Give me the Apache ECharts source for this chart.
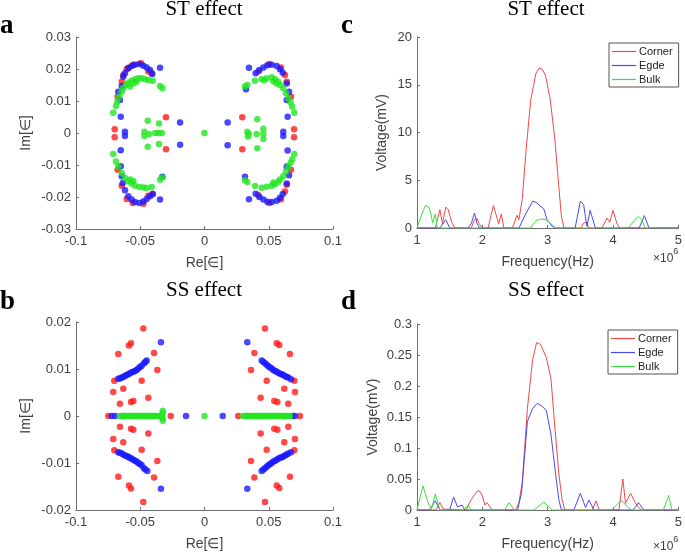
<!DOCTYPE html>
<html><head><meta charset="utf-8">
<script src="https://cdn.jsdelivr.net/npm/echarts@6/dist/echarts.min.js"></script>
<style>html,body{margin:0;padding:0;background:#fff}#c{width:685px;height:552px}</style>
</head><body><div id="c"></div>
<script>
// ---------- Panel a (ST effect) eigenvalues ----------
const aRed = [[-0.0676,0.0113],[-0.0644,0.016],[-0.0632,0.0181],[-0.0606,0.0199],[-0.0593,0.0204],[-0.0554,0.0213],[-0.0494,0.0218],[-0.0437,0.0192],[-0.0411,0.0187],
[-0.0699,0.0012],[-0.0699,-0.0013],[-0.03,0.0049],[-0.03,-0.0051],
[-0.0676,-0.0115],[-0.0644,-0.0165],[-0.0606,-0.0206],[-0.0559,-0.0219],[-0.0476,-0.0221],[-0.0437,-0.0196],[-0.0403,-0.0191],
[0.0419,0.0192],[0.0504,0.0216],[0.0595,0.0205],[0.0626,0.0181],[0.064,0.016],[0.0673,0.0113],[0.0697,0.0012],[0.0697,-0.0013],[0.0294,0.0049],[0.0294,-0.0051],
[0.0419,-0.0194],[0.0504,-0.0219],[0.0595,-0.0207],[0.0626,-0.0183],[0.064,-0.0162],[0.0673,-0.0115]];
const aBlue = [[-0.0671,0.0129],[-0.0658,0.0103],[-0.0644,0.0147],[-0.0632,0.0176],[-0.0619,0.0187],[-0.0593,0.0202],[-0.0567,0.0209],[-0.0541,0.0213],[-0.0507,0.0216],[-0.0476,0.021],[-0.045,0.0205],[-0.0424,0.0197],[-0.0406,0.0184],[-0.0346,0.0204],
[-0.0652,0.0051],[-0.0619,0.0004],[-0.0619,-0.0009],[-0.019,0.0033],[-0.019,-0.0037],[-0.0652,-0.0054],
[-0.0652,-0.0104],[-0.0644,-0.0135],[-0.0636,-0.0156],[-0.0619,-0.0179],[-0.0593,-0.0198],[-0.0567,-0.0208],[-0.0541,-0.0216],[-0.0507,-0.0219],[-0.0476,-0.0214],[-0.045,-0.0206],[-0.0424,-0.0198],[-0.0403,-0.0191],[-0.0346,-0.0208],[-0.0328,-0.0137],
[0.0346,0.0204],[0.0398,0.0187],[0.0427,0.0197],[0.0458,0.0205],[0.0489,0.0212],[0.0523,0.0213],[0.0562,0.0209],[0.0588,0.0199],[0.0609,0.0188],[0.064,0.0155],[0.0658,0.0129],[0.064,0.0103],[0.0323,0.0137],
[0.0647,0.0051],[0.0613,0.0004],[0.0613,-0.0009],[0.018,0.0033],[0.018,-0.0038],[0.0647,-0.0055],
[0.0346,-0.0207],[0.0398,-0.019],[0.0427,-0.02],[0.0458,-0.0208],[0.0489,-0.0215],[0.0523,-0.0216],[0.0562,-0.0212],[0.0588,-0.0202],[0.0609,-0.0191],[0.064,-0.0158],[0.0658,-0.0132],[0.064,-0.0105],[0.0315,-0.0137]];
const aGreen = [[-0.071,0.0063],[-0.0689,0.0084],[-0.0679,0.0098],[-0.0663,0.0113],[-0.0644,0.0129],[-0.0632,0.014],[-0.0611,0.015],[-0.0593,0.0157],[-0.058,0.0145],[-0.0567,0.0163],[-0.0554,0.0155],[-0.0541,0.0168],[-0.0528,0.016],[-0.0515,0.0171],[-0.0489,0.0171],[-0.0463,0.0168],[-0.0437,0.0166],[-0.0403,0.0163],[-0.0346,0.0147],[-0.0328,0.014],
[-0.0442,0.0038],[-0.0354,0.003],[-0.0468,0.0004],[-0.0468,-0.0009],[-0.043,-0.0003],[-0.0384,0],[-0.0358,0],[-0.0332,0],[-0.0354,-0.0034],[-0.0442,-0.0043],[-0.071,-0.0066],[0,0],
[-0.0689,-0.0089],[-0.0671,-0.0104],[-0.0644,-0.0125],[-0.0619,-0.0141],[-0.0593,-0.0151],[-0.058,-0.0145],[-0.0567,-0.0158],[-0.0554,-0.015],[-0.0541,-0.0165],[-0.0507,-0.0169],[-0.0476,-0.017],[-0.045,-0.0172],[-0.0411,-0.0169],[-0.0346,-0.0146],[-0.0328,-0.0139],
[0.0315,0.0145],[0.0333,0.015],[0.0393,0.0163],[0.0445,0.0168],[0.0465,0.0165],[0.0484,0.0171],[0.0523,0.0174],[0.0536,0.0162],[0.0549,0.0168],[0.056,0.0155],[0.0574,0.016],[0.0588,0.015],[0.0613,0.014],[0.0634,0.0124],[0.0652,0.0108],[0.0671,0.0095],[0.0683,0.0082],[0.0699,0.0063],
[0.0411,0.0043],[0.0458,0.0013],[0.0458,-0.0003],[0.0458,-0.0019],[0.0411,-0.0048],[0.0333,0.0004],[0.0345,-0.0003],[0.0338,-0.0011],[0.0406,-0.0003],[0.0699,-0.0066],
[0.0315,-0.0148],[0.0333,-0.0153],[0.0393,-0.0166],[0.0445,-0.0171],[0.0484,-0.0168],[0.0523,-0.0165],[0.0536,-0.0155],[0.0549,-0.016],[0.0574,-0.0152],[0.0588,-0.0145],[0.0613,-0.0135],[0.0634,-0.012],[0.0652,-0.0105],[0.0671,-0.0092],[0.0683,-0.0082]];

// ---------- Panel b (SS effect) eigenvalues ----------
const bRed = [[-0.0476,0.0186],[-0.0572,0.0155],[-0.0588,0.015],[-0.0671,0.0132],[-0.0393,0.0134],[-0.0367,0.0098],[-0.0489,0.0075],[-0.0702,0.0075],[-0.071,0.0051],[-0.0632,0.0058],[-0.0437,0.0039],[-0.0554,0.0032],[-0.0572,0.003],[-0.0658,0.0026],[-0.0749,0],[-0.0263,0],
[-0.0658,-0.0023],[-0.0572,-0.0027],[-0.0554,-0.0029],[-0.071,-0.0049],[-0.0632,-0.0056],[-0.0437,-0.0037],[-0.0702,-0.0073],[-0.0489,-0.0072],[-0.0367,-0.0096],[-0.0671,-0.0129],[-0.0393,-0.0131],[-0.0588,-0.0148],[-0.0572,-0.0154],[-0.0476,-0.0183],
[0.0471,0.0186],[0.0562,0.0155],[0.0582,0.0151],[0.0388,0.0134],[0.0665,0.0132],[0.0362,0.0098],[0.0484,0.0075],[0.0699,0.0075],[0.0621,0.0058],[0.0704,0.0051],[0.0437,0.0039],[0.0543,0.0032],[0.0567,0.003],[0.0652,0.0026],[0.0263,0],[0.0743,0],
[0.0652,-0.0023],[0.0543,-0.0027],[0.0567,-0.0029],[0.0704,-0.0049],[0.0621,-0.0056],[0.0437,-0.0037],[0.0699,-0.0073],[0.0484,-0.0072],[0.0362,-0.0096],[0.0665,-0.0129],[0.0388,-0.0131],[0.0562,-0.0148],[0.0582,-0.0153],[0.0471,-0.0183]];
const bBlue = [[-0.0671,0.0079],[-0.0658,0.008],[-0.0644,0.0082],[-0.0632,0.0083],[-0.0619,0.0085],[-0.0606,0.0087],[-0.0593,0.0089],[-0.058,0.0091],[-0.0567,0.0093],[-0.0554,0.0094],[-0.0541,0.0096],[-0.0528,0.0098],[-0.0515,0.0101],[-0.0502,0.0104],[-0.0489,0.0107],[-0.0471,0.0112],[-0.046,0.0115],[-0.045,0.0118],
[-0.0671,-0.0077],[-0.0658,-0.0078],[-0.0644,-0.008],[-0.0632,-0.0082],[-0.0619,-0.0084],[-0.0606,-0.0085],[-0.0593,-0.0087],[-0.058,-0.0089],[-0.0567,-0.0091],[-0.0554,-0.0093],[-0.0541,-0.0095],[-0.0528,-0.0097],[-0.0515,-0.01],[-0.0502,-0.0102],[-0.0489,-0.0105],[-0.0471,-0.0111],[-0.046,-0.0114],[-0.0445,-0.0117],
[0.0445,0.0118],[0.0458,0.0115],[0.0471,0.0112],[0.0484,0.0109],[0.0497,0.0106],[0.051,0.0103],[0.0523,0.0101],[0.0536,0.0098],[0.0549,0.0096],[0.0562,0.0094],[0.0574,0.0092],[0.0588,0.009],[0.0601,0.0089],[0.0613,0.0087],[0.0626,0.0085],[0.0639,0.0083],[0.0652,0.0082],[0.0673,0.0078],
[0.0445,-0.0117],[0.0458,-0.0114],[0.0471,-0.0111],[0.0484,-0.0108],[0.0497,-0.0105],[0.051,-0.0102],[0.0523,-0.01],[0.0536,-0.0097],[0.0549,-0.0095],[0.0562,-0.0093],[0.0574,-0.0091],[0.0588,-0.0089],[0.0601,-0.0088],[0.0613,-0.0086],[0.0626,-0.0084],[0.0639,-0.0082],[0.0652,-0.008],[0.0673,-0.0077],
[-0.0339,0.0157],[-0.0339,-0.0155],[0.0333,0.0157],[0.0333,-0.0155],
[-0.0722,0],[-0.0696,0],[-0.0626,0],[-0.0144,0],[0.0142,0],[0.0683,0],[0.0704,0]];
const bGreen = [[-0.0657,0],[-0.0645,0],[-0.0633,0],[-0.0621,0],[-0.0609,0],[-0.0597,0],[-0.0585,0],[-0.0573,0],[-0.0561,0],[-0.0549,0],[-0.0537,0],[-0.0525,0],[-0.0513,0],[-0.0501,0],[-0.0489,0],[-0.0477,0],[-0.0465,0],[-0.0453,0],[-0.0441,0],[-0.0429,0],[-0.0417,0],[-0.0405,0],[-0.0393,0],[-0.0381,0],[-0.0369,0],[-0.0357,0],[-0.0345,0],[-0.0333,0],[-0.0325,0.0011],[-0.0325,0.0006],[-0.0325,-0.0005],[-0.0325,-0.001],
[0,0],
[0.0302,0],[0.0314,0],[0.0326,0],[0.0338,0],[0.035,0],[0.0362,0],[0.0374,0],[0.0386,0],[0.0398,0],[0.041,0],[0.0422,0],[0.0434,0],[0.0446,0],[0.0458,0],[0.047,0],[0.0482,0],[0.0494,0],[0.0506,0],[0.0518,0],[0.053,0],[0.0542,0],[0.0554,0],[0.0566,0],[0.0578,0],[0.059,0],[0.0602,0],[0.0614,0],[0.0626,0],[0.0638,0],[0.065,0],[0.0665,0]];

// ---------- Panel c (ST effect) voltage spectra, frequency in 1e6 Hz ----------
const cCorner = [[1,0],[1.28,0],[1.35,1.92],[1.39,0.45],[1.44,2.2],[1.48,1.9],[1.53,0.6],[1.58,0],[1.83,0],[1.88,0.87],[1.92,0.98],[1.95,0.45],[2.0,0],[2.09,0],[2.13,1.3],[2.17,2.34],[2.21,1.4],[2.25,0.45],[2.29,1.47],[2.33,0],[2.46,0],[2.53,1.33],[2.56,0.87],[2.61,3.0],[2.67,8.2],[2.74,13.4],[2.82,16.2],[2.87,16.75],[2.92,16.6],[2.97,15.9],[3.04,13.4],[3.11,9.25],[3.17,4.36],[3.21,1.22],[3.25,0],[3.51,0],[3.55,0.52],[3.59,0.6],[3.63,0],[3.83,0],[3.91,1.05],[3.95,0.6],[4.0,1.85],[4.06,0.45],[4.1,0],[5,0]];
const cEgde = [[1,0],[1.35,0],[1.44,0.87],[1.5,0],[1.78,0],[1.83,0.45],[1.88,1.57],[1.92,0.45],[1.96,0],[2.56,0],[2.67,1.57],[2.77,2.8],[2.82,2.7],[2.89,2.27],[2.94,2.0],[2.99,0.87],[3.07,0.17],[3.12,0],[3.42,0],[3.5,2.8],[3.55,2.44],[3.6,0.17],[3.65,1.85],[3.73,0],[4.4,0],[4.48,1.3],[4.55,0],[5,0]];
const cBulk = [[1,0],[1.08,1.57],[1.13,2.34],[1.18,2.2],[1.21,1.57],[1.24,0.52],[1.28,1.47],[1.31,0],[2.74,0],[2.82,0.77],[2.89,0.94],[2.97,0.87],[3.04,0.52],[3.12,0],[4.24,0],[4.31,0.7],[4.39,1.22],[4.44,0.87],[4.49,0],[5,0]];

// ---------- Panel d (SS effect) voltage spectra ----------
const dCorner = [[1,0],[1.29,0],[1.35,0.012],[1.4,0.0016],[1.43,0],[1.75,0],[1.83,0.017],[1.93,0.0315],[1.97,0.029],[2.0,0.0226],[2.04,0.008],[2.07,0.012],[2.1,0.011],[2.15,0],[2.51,0],[2.56,0.012],[2.61,0.044],[2.69,0.164],[2.77,0.243],[2.83,0.27],[2.89,0.267],[2.98,0.246],[3.05,0.212],[3.11,0.133],[3.17,0.059],[3.22,0.017],[3.26,0],[3.68,0],[3.74,0.0147],[3.79,0],[4.09,0],[4.15,0.05],[4.19,0.011],[4.27,0.0268],[4.34,0.012],[4.39,0.004],[4.44,0],[5,0]];
const dEgde = [[1,0],[1.19,0],[1.28,0.0147],[1.35,0],[1.5,0],[1.56,0.021],[1.62,0.005],[1.69,0.008],[1.73,0],[2.54,0],[2.6,0.028],[2.69,0.143],[2.77,0.164],[2.84,0.172],[2.92,0.167],[2.98,0.16],[3.05,0.122],[3.12,0.059],[3.17,0.017],[3.21,0],[3.4,0],[3.5,0.0268],[3.58,0.004],[3.63,0.016],[3.71,0],[4.31,0],[4.39,0.012],[4.47,0],[5,0]];
const dBulk = [[1,0],[1.09,0.039],[1.17,0.012],[1.22,0],[1.28,0.026],[1.35,0],[1.7,0],[1.78,0.007],[1.83,0],[2.34,0],[2.41,0.012],[2.49,0],[2.79,0],[2.94,0.013],[3.07,0],[3.98,0],[4.13,0.0158],[4.23,0.004],[4.29,0],[4.77,0],[4.85,0.0236],[4.9,0],[5,0]];

const legendNames = ['Corner','Egde','Bulk'];
const titles = ['ST effect','SS effect'];
const panelLetters = ['a','b','c','d'];

// ---------- styling ----------
const SANS = 'Liberation Sans, Arial, sans-serif';
const SERIF = 'Liberation Serif, Times New Roman, serif';
const axisColor = '#6e6e6e', labelColor = '#404040';
const C_RED = '#ff1a1a', C_BLUE = '#1a1aff', C_GREEN = '#22e622';
const L_RED = '#f04848', L_BLUE = '#4848f0', L_GREEN = '#40dd40';

function fmt(v){ return String(+v.toFixed(4)); }
function axisBase(extra){
  return Object.assign({
    type:'value',
    axisLine:{show:true,onZero:false,lineStyle:{color:axisColor,width:1}},
    axisTick:{show:true,inside:true,length:3,lineStyle:{color:axisColor}},
    splitLine:{show:false},
    axisLabel:{color:labelColor,fontFamily:SANS,fontSize:13,formatter:fmt},
    nameTextStyle:{color:labelColor,fontFamily:SANS,fontSize:14}
  }, extra);
}
function lbl(margin){ return {color:labelColor,fontFamily:SANS,fontSize:13,margin:margin,formatter:fmt}; }
function legendAt(left, top){
  return {data:legendNames,orient:'vertical',left:left,top:top,padding:[3,6,2,3],itemGap:3,itemWidth:24,itemHeight:1.2,
    icon:'rect',borderColor:'#555',borderWidth:1,backgroundColor:'#fff',
    textStyle:{fontFamily:SANS,fontSize:11,color:'#222',lineHeight:11,padding:[0,0,0,-2]}};
}

const grids = [
  {left:76, top:37, width:257, height:192},
  {left:417, top:37, width:264, height:191},
  {left:76, top:322, width:257, height:193},
  {left:417, top:324, width:263, height:190}
];

const option = {
  animation:false,
  backgroundColor:'#fff',
  grid: grids.map(g=>Object.assign({containLabel:false},g)),
  xAxis:[
    axisBase({gridIndex:0,min:-0.1,max:0.1,interval:0.05,name:'Re[∈]',nameLocation:'middle',nameGap:27,axisLabel:lbl(6)}),
    axisBase({gridIndex:1,min:1,max:5,interval:1,name:'Frequency(Hz)',nameLocation:'middle',nameGap:27,axisLabel:lbl(6)}),
    axisBase({gridIndex:2,min:-0.1,max:0.1,interval:0.05,name:'Re[∈]',nameLocation:'middle',nameGap:27,axisLabel:lbl(6)}),
    axisBase({gridIndex:3,min:1,max:5,interval:1,name:'Frequency(Hz)',nameLocation:'middle',nameGap:27,axisLabel:lbl(6)})
  ],
  yAxis:[
    axisBase({gridIndex:0,min:-0.03,max:0.03,interval:0.01,name:'Im[∈]',nameLocation:'middle',nameGap:43,axisLabel:lbl(5)}),
    axisBase({gridIndex:1,min:0,max:20,interval:5,name:'Voltage(mV)',nameLocation:'middle',nameGap:28,axisLabel:lbl(5)}),
    axisBase({gridIndex:2,min:-0.02,max:0.02,interval:0.01,name:'Im[∈]',nameLocation:'middle',nameGap:43,axisLabel:lbl(5)}),
    axisBase({gridIndex:3,min:0,max:0.3,interval:0.05,name:'Voltage(mV)',nameLocation:'middle',nameGap:37,axisLabel:lbl(5)})
  ],
  legend:[ legendAt(609,43), legendAt(608,330) ],
  series:[
    {type:'scatter',xAxisIndex:0,yAxisIndex:0,data:aRed,symbolSize:6.5,itemStyle:{color:C_RED},silent:true},
    {type:'scatter',xAxisIndex:0,yAxisIndex:0,data:aBlue,symbolSize:6.5,itemStyle:{color:C_BLUE},silent:true},
    {type:'scatter',xAxisIndex:0,yAxisIndex:0,data:aGreen,symbolSize:6.5,itemStyle:{color:C_GREEN},silent:true},
    {type:'scatter',xAxisIndex:2,yAxisIndex:2,data:bRed,symbolSize:6.5,itemStyle:{color:C_RED},silent:true},
    {type:'scatter',xAxisIndex:2,yAxisIndex:2,data:bBlue,symbolSize:6.5,itemStyle:{color:C_BLUE},silent:true},
    {type:'scatter',xAxisIndex:2,yAxisIndex:2,data:bGreen,symbolSize:6.5,itemStyle:{color:C_GREEN},silent:true},
    {name:'Corner',type:'line',xAxisIndex:1,yAxisIndex:1,data:cCorner,symbol:'none',lineStyle:{color:L_RED,width:1},itemStyle:{color:L_RED}},
    {name:'Egde',type:'line',xAxisIndex:1,yAxisIndex:1,data:cEgde,symbol:'none',lineStyle:{color:L_BLUE,width:1},itemStyle:{color:L_BLUE}},
    {name:'Bulk',type:'line',xAxisIndex:1,yAxisIndex:1,data:cBulk,symbol:'none',lineStyle:{color:L_GREEN,width:1},itemStyle:{color:L_GREEN}},
    {name:'Corner',type:'line',xAxisIndex:3,yAxisIndex:3,data:dCorner,symbol:'none',lineStyle:{color:L_RED,width:1},itemStyle:{color:L_RED}},
    {name:'Egde',type:'line',xAxisIndex:3,yAxisIndex:3,data:dEgde,symbol:'none',lineStyle:{color:L_BLUE,width:1},itemStyle:{color:L_BLUE}},
    {name:'Bulk',type:'line',xAxisIndex:3,yAxisIndex:3,data:dBulk,symbol:'none',lineStyle:{color:L_GREEN,width:1},itemStyle:{color:L_GREEN}}
  ],
  graphic:[
    {type:'text',x:204,y:9,style:{text:titles[0],font:'21px '+SERIF,fill:'#000',textAlign:'center',textVerticalAlign:'middle'}},
    {type:'text',x:546,y:9,style:{text:titles[0],font:'21px '+SERIF,fill:'#000',textAlign:'center',textVerticalAlign:'middle'}},
    {type:'text',x:204,y:290,style:{text:titles[1],font:'21px '+SERIF,fill:'#000',textAlign:'center',textVerticalAlign:'middle'}},
    {type:'text',x:546,y:290,style:{text:titles[1],font:'21px '+SERIF,fill:'#000',textAlign:'center',textVerticalAlign:'middle'}},
    {type:'text',x:0,y:26,style:{text:panelLetters[0],font:'bold 27px '+SERIF,fill:'#000',textAlign:'left',textVerticalAlign:'middle'}},
    {type:'text',x:0,y:302,style:{text:panelLetters[1],font:'bold 27px '+SERIF,fill:'#000',textAlign:'left',textVerticalAlign:'middle'}},
    {type:'text',x:341,y:26,style:{text:panelLetters[2],font:'bold 27px '+SERIF,fill:'#000',textAlign:'left',textVerticalAlign:'middle'}},
    {type:'text',x:341,y:302,style:{text:panelLetters[3],font:'bold 27px '+SERIF,fill:'#000',textAlign:'left',textVerticalAlign:'middle'}},
    {type:'text',x:653,y:247,style:{text:'{a|×10}{b|6}',fill:labelColor,rich:{a:{fontFamily:SANS,fontSize:12,color:labelColor,verticalAlign:'bottom',padding:[6,0,0,0]},b:{fontFamily:SANS,fontSize:9,color:labelColor,verticalAlign:'top'}}}},
    {type:'text',x:653,y:535,style:{text:'{a|×10}{b|6}',fill:labelColor,rich:{a:{fontFamily:SANS,fontSize:12,color:labelColor,verticalAlign:'bottom',padding:[6,0,0,0]},b:{fontFamily:SANS,fontSize:9,color:labelColor,verticalAlign:'top'}}}}
  ]
};
const chart = echarts.init(document.getElementById('c'), null, {renderer:'canvas'});
chart.setOption(option);
</script>
</body></html>
